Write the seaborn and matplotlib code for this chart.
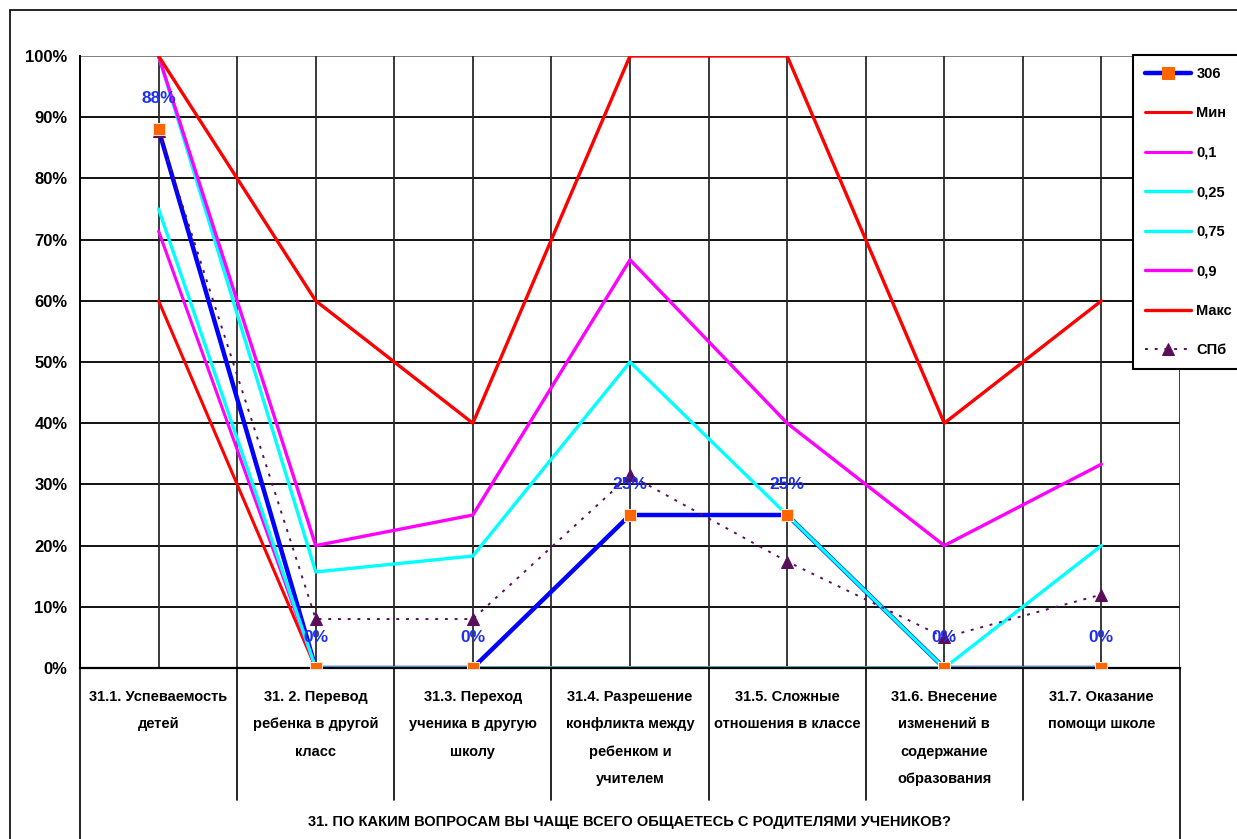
import numpy as np
import pandas as pd
import matplotlib
matplotlib.use("Agg")
import matplotlib.pyplot as plt
import matplotlib.transforms as mtransforms
from matplotlib.patches import Rectangle
from matplotlib.lines import Line2D
import seaborn as sns

# ---------------- data ----------------
categories = [
    "31.1. Успеваемость\nдетей",
    "31. 2. Перевод\nребенка в другой\nкласс",
    "31.3. Переход\nученика в другую\nшколу",
    "31.4. Разрешение\nконфликта между\nребенком и\nучителем",
    "31.5. Сложные\nотношения в классе",
    "31.6. Внесение\nизменений в\nсодержание\nобразования",
    "31.7. Оказание\nпомощи школе",
]
group_title = "31. ПО КАКИМ ВОПРОСАМ ВЫ ЧАЩЕ ВСЕГО ОБЩАЕТЕСЬ С РОДИТЕЛЯМИ УЧЕНИКОВ?"

s306 = [0.88, 0.0, 0.0, 0.25, 0.25, 0.0, 0.0]
s_min = [0.60, 0.0, 0.0, 0.0, 0.0, 0.0, 0.0]
s_p10 = [0.714, 0.0, 0.0, 0.0, 0.0, 0.0, 0.0]
s_p25 = [0.75, 0.0, 0.0, 0.0, 0.0, 0.0, 0.0]
s_p75 = [1.0, 0.157, 0.183, 0.50, 0.25, 0.0, 0.20]
s_p90 = [1.0, 0.20, 0.25, 0.667, 0.40, 0.20, 0.333]
s_max = [1.0, 0.60, 0.40, 1.0, 1.0, 0.40, 0.60]
s_spb = [0.877, 0.08, 0.08, 0.315, 0.174, 0.05, 0.12]

yticks = [0, 0.1, 0.2, 0.3, 0.4, 0.5, 0.6, 0.7, 0.8, 0.9, 1.0]
ytick_labels = ["0%", "10%", "20%", "30%", "40%", "50%", "60%", "70%", "80%", "90%", "100%"]

# ---------------- style ----------------
sns.set_theme(style="white")
plt.rcParams["font.family"] = ["Liberation Sans Narrow", "Liberation Sans", "DejaVu Sans"]
plt.rcParams["font.weight"] = "bold"
plt.rcParams["text.color"] = "black"
plt.rcParams["axes.labelcolor"] = "black"
plt.rcParams["xtick.color"] = "black"
plt.rcParams["ytick.color"] = "black"

W, H = 1237, 839
fig = plt.figure(figsize=(W / 100, H / 100), dpi=100)
L, R, T, B = 80, 1180, 56, 668
ax = fig.add_axes([L / W, 1 - B / H, (R - L) / W, (B - T) / H])

x = np.arange(len(categories))

# grid
for yv in yticks:
    ax.axhline(yv, color="#7f7f7f" if yv == 1.0 else "#111111", lw=1.4, zorder=0.5)
for xv in np.arange(-0.5, len(categories), 0.5):
    ax.axvline(xv, color="#2a2a2a", lw=1.3, zorder=0.5)

def line(vals, label, color, lw, ls="-", marker=None, ms=None, mfc=None, mec=None, z=2):
    df = pd.DataFrame({"x": x, "y": vals})
    sns.lineplot(data=df, x="x", y="y", ax=ax, color=color, lw=lw, ls=ls,
                 marker=marker, markersize=ms, markerfacecolor=mfc,
                 markeredgecolor=mec, label=label, zorder=z, sort=False)

line(s306, "306", "#0000FF", 3.2, marker="s", ms=8, mfc="#FF6600", mec="#FF6600", z=2)
line(s_min, "Мин", "#FF0000", 2.2)
line(s_p10, "0,1", "#FF00FF", 2.2)
line(s_p25, "0,25", "#00FFFF", 2.4)
line(s_p75, "0,75", "#00FFFF", 2.4)
line(s_p90, "0,9", "#FF00FF", 2.4)
line(s_max, "Макс", "#FF0000", 2.4)
line(s_spb, "СПб", "#5B0F5B", 1.4, ls=(0, (1.5, 3.5)), marker="^", ms=8,
     mfc="#5B0F5B", mec="#5B0F5B", z=3)

# markers of 306 on top
sns.scatterplot(x=x, y=s306, ax=ax, marker="s", s=80, color="#FF6600",
                edgecolor="white", linewidth=0.6, zorder=6, legend=False)

# data labels for 306
for xi, v in zip(x, s306):
    ax.annotate(f"{round(v * 100):.0f}%", (xi, v), xytext=(0, 22),
                textcoords="offset points", ha="center", va="center",
                color="#1F2FEF", fontsize=12.5, fontweight="bold", zorder=7)

ax.set_xlim(-0.5, len(categories) - 0.5)
ax.set_ylim(0, 1)
ax.set_yticks(yticks)
ax.set_yticklabels(ytick_labels, fontsize=12, fontweight="bold", color="black")
ax.set_xticks(x)
ax.set_xticklabels([])
ax.tick_params(axis="x", length=5, color="#333333", width=1.2, direction="out")
ax.tick_params(axis="y", length=5, color="black", width=1.2, direction="out", pad=4)
ax.set_xlabel("")
ax.set_ylabel("")
for s in ["top", "right"]:
    ax.spines[s].set_visible(False)
ax.spines["left"].set_color("black")
ax.spines["left"].set_linewidth(1.4)
ax.spines["bottom"].set_color("black")
ax.spines["bottom"].set_linewidth(1.6)

# category label table below axis
trans = mtransforms.blended_transform_factory(ax.transData, ax.transAxes)
def ya(ypx):
    return (B - ypx) / (B - T)

for xi, lab in zip(x, categories):
    ax.text(xi, ya(690), lab, transform=trans, ha="center", va="top",
            fontsize=10.5, fontweight="bold", linespacing=2.22, clip_on=False,
            color="black")
for xb in np.arange(0.5, len(categories) - 1, 1.0):
    ax.add_line(Line2D([xb, xb], [0, ya(800)], transform=trans, color="black",
                       lw=1.2, clip_on=False))
for xb in [-0.5, len(categories) - 0.5]:
    ax.add_line(Line2D([xb, xb], [0, ya(845)], transform=trans, color="black",
                       lw=1.2, clip_on=False))
ax.text(3, ya(822), group_title, transform=trans, ha="center", va="center",
        fontsize=10.5, fontweight="bold", clip_on=False, color="black")

# legend
leg = ax.legend(loc="upper left", bbox_to_anchor=(1133 / W, 1 - 55 / H),
                bbox_transform=fig.transFigure, frameon=True, fancybox=False,
                framealpha=1, fontsize=10.5, handlelength=3.2, labelspacing=1.75,
                borderpad=0.8, handletextpad=0.35, borderaxespad=0)
leg.get_frame().set_edgecolor("black")
leg.get_frame().set_linewidth(1.5)
leg.get_frame().set_facecolor("white")
leg.set_zorder(10)
for t in leg.get_texts():
    t.set_fontweight("bold")
    t.set_color("black")

# outer chart border
fig.patches.append(Rectangle((10 / W, -0.05), 1.2, 1 - 10 / H + 0.05,
                             transform=fig.transFigure, fill=False,
                             edgecolor="black", lw=1.2, zorder=0))

fig.savefig("out.png", dpi=100, facecolor="white")
